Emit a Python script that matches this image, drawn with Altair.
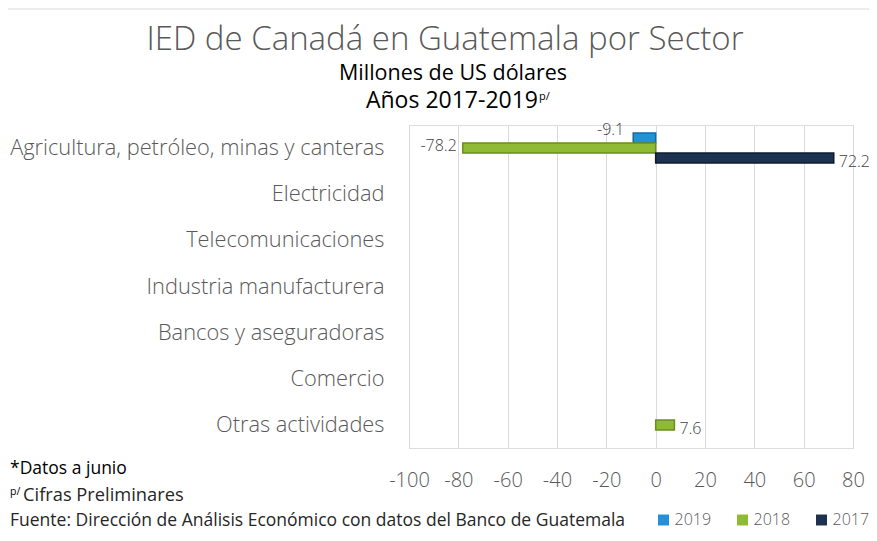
import altair as alt
import pandas as pd

sectors = [
    "Agricultura, petróleo, minas y canteras",
    "Electricidad",
    "Telecomunicaciones",
    "Industria manufacturera",
    "Bancos y aseguradoras",
    "Comercio",
    "Otras actividades",
]
years = ["2019", "2018", "2017"]
values_2019 = [-9.1, None, None, None, None, None, None]
values_2018 = [-78.2, None, None, None, None, None, 7.6]
values_2017 = [72.2, None, None, None, None, None, None]
x_ticks = [-100, -80, -60, -40, -20, 0, 20, 40, 60, 80]
colors = ["#2590D8", "#8FBA33", "#1D3150"]
strokes = ["#17679F", "#6A8F1E", "#0F1C30"]

rows = []
for yr, vals in zip(years, [values_2019, values_2018, values_2017]):
    for s, v in zip(sectors, vals):
        if v is not None:
            rows.append({"sector": s, "year": yr, "value": v, "label": f"{v:.1f}"})
df = pd.DataFrame(rows)

FONT = "Open Sans"
GRAY = "#595959"

y_enc = alt.Y(
    "sector:N",
    scale=alt.Scale(domain=sectors, paddingInner=0.35, paddingOuter=0.175),
    axis=alt.Axis(
        title=None, domain=False, ticks=False, labelPadding=25,
        labelFontSize=21.8, labelColor=GRAY, labelFont=FONT, labelFontWeight=300,
        labelLimit=500,
    ),
)
yoff_enc = alt.YOffset("year:N", scale=alt.Scale(domain=years))
x_enc = alt.X(
    "value:Q",
    scale=alt.Scale(domain=[-100, 80], nice=False, zero=False),
    axis=alt.Axis(
        title=None, values=x_ticks, grid=True, gridColor="#d9d9d9", domain=False,
        ticks=False, labelPadding=22, labelFontSize=20, labelColor=GRAY,
        labelFont=FONT, labelFontWeight=300, labelExpr="'' + datum.value",
        labelFlush=False, labelOverlap=False,
    ),
)

base = alt.Chart(df)

bars = base.mark_bar(strokeWidth=1.5).encode(
    x=x_enc,
    y=y_enc,
    yOffset=yoff_enc,
    stroke=alt.Stroke("year:N", scale=alt.Scale(domain=years, range=strokes), legend=None),
    color=alt.Color(
        "year:N",
        scale=alt.Scale(domain=years, range=colors),
        legend=alt.Legend(
            orient="none", legendX=246.5, legendY=387, direction="horizontal",
            title=None, symbolType="square", symbolSize=120, labelFontSize=16,
            labelColor=GRAY, labelFont=FONT, labelFontWeight=300,
            columnPadding=23, labelOffset=3, symbolStrokeWidth=0,
        ),
    ),
)

txt_kw = dict(fontSize=16, color="#404040", font=FONT, fontWeight=300, baseline="middle")
lab19 = base.transform_filter("datum.year == '2019'").mark_text(
    align="right", dx=-9, dy=-8, **txt_kw
).encode(x="value:Q", y="sector:N", yOffset="year:N", text="label:N")
lab18n = base.transform_filter("datum.year == '2018' && datum.value < 0").mark_text(
    align="right", dx=-6, dy=-2, **txt_kw
).encode(x="value:Q", y="sector:N", yOffset="year:N", text="label:N")
labpos = base.transform_filter("datum.value > 0").mark_text(
    align="left", dx=5, dy=4, **txt_kw
).encode(x="value:Q", y="sector:N", yOffset="year:N", text="label:N")

one = pd.DataFrame({"a": [0]})


def note(text, x, y, size, color, align="left", weight=400):
    return alt.Chart(one).mark_text(
        align=align, baseline="middle", fontSize=size, color=color, font=FONT,
        fontWeight=weight,
    ).encode(x=alt.value(x), y=alt.value(y), text=alt.value(text))


title = note("IED de Canadá en Guatemala por Sector", 36, -85, 33, GRAY, "center", 300)
sub1 = note("Millones de US dólares", 44, -51, 21.5, "#000000", "center")
sub2 = note("Años 2017-2019", 129, -24, 23, "#000000", "right")
sub2p = note("p/", 130, -28, 11, "#000000", "left")
f1 = note("*Datos a junio", -399, 344, 17.5, "#000000")
f2p = note("p/", -399, 367, 10.5, "#000000")
f2 = note("Cifras Preliminares", -386, 371, 18.3, "#262626")
f3 = note("Fuente: Dirección de Análisis Económico con datos del Banco de Guatemala",
          -399, 396, 17.5, "#262626")
border = alt.Chart(one).mark_rule(color="#d9d9d9", strokeWidth=1).encode(
    x=alt.value(-401), x2=alt.value(460), y=alt.value(-116)
)

chart = alt.layer(
    border, bars, lab19, lab18n, labpos, title, sub1, sub2, sub2p, f1, f2p, f2, f3
).properties(
    width=444, height=323,
    autosize=alt.AutoSizeParams(type="none"),
    padding={"left": 401, "top": 117, "right": 16, "bottom": 83},
).configure_view(strokeWidth=0).configure(background="white")

chart.save("out.html", embed_options={"renderer": "svg", "actions": False})
